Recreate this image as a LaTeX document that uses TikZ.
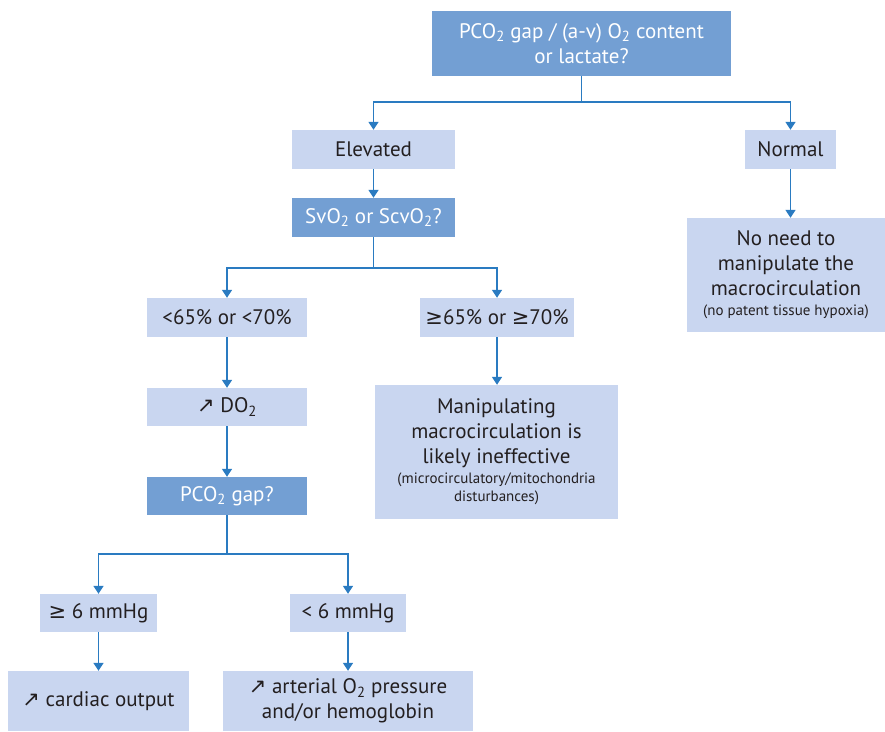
\documentclass[tikz,border=0pt]{standalone}
\usepackage{fontspec}
\setmainfont{PT Sans}
\newfontfamily\symfont{DejaVu Sans}
\usetikzlibrary{arrows.meta}

\definecolor{darkbox}{HTML}{739FD3}
\definecolor{lightbox}{HTML}{C9D6F0}
\definecolor{linkblue}{HTML}{2A7BC1}
\definecolor{textgray}{HTML}{231F20}
\newcommand{\incr}{{\symfont ↗}}
\newcommand{\geqsym}{{\symfont ≥}}
\newcommand{\notefont}{\fontsize{15}{18}\selectfont}

\begin{document}
\begin{tikzpicture}[x=1pt,y=-1pt,
  box/.style={fill=lightbox, text=textgray, font=\fontsize{21}{25}\selectfont, align=center, inner sep=0pt},
  qbox/.style={box, fill=darkbox, text=white},
  link/.style={draw=linkblue, line width=1.5pt, -{Triangle[length=8pt,width=10pt]}}]
  \useasboundingbox (0,0) rectangle (885,731);

  % questions and answers
  \node[qbox, minimum width=299pt, minimum height=65pt] (gap) at (581.5,43.5) {PCO\textsubscript{2} gap / (a-v) O\textsubscript{2} content\\or lactate?};
  \node[box, minimum width=163pt, minimum height=39pt] (elev) at (373.5,149.5) {Elevated};
  \node[box, minimum width=91pt, minimum height=39pt] (norm) at (790.5,149.5) {Normal};
  \node[qbox, minimum width=163pt, minimum height=39pt] (svo) at (373.5,217.5) {SvO\textsubscript{2} or ScvO\textsubscript{2}?};
  \node[box, minimum width=198pt, minimum height=114pt] (noneed) at (786,275) {No need to\\manipulate the\\macrocirculation\\[-5pt]{\notefont (no patent tissue hypoxia)}};
  \node[box, minimum width=160pt, minimum height=39pt] (low) at (227,317.5) {<65\% or <70\%};
  \node[box, minimum width=154pt, minimum height=39pt] (high) at (497,317.5) {\geqsym65\% or \geqsym70\%};
  \node[box, minimum width=243pt, minimum height=134pt] (manip) at (496.5,452) {Manipulating\\macrocirculation is\\likely ineffective\\[-5pt]{\notefont (microcirculatory/mitochondria}\\[-7pt]{\notefont disturbances)}};
  \node[box, minimum width=160pt, minimum height=38pt] (do) at (227,407) {\incr{} DO\textsubscript{2}};
  \node[qbox, minimum width=160pt, minimum height=38pt] (pgap) at (227,496) {PCO\textsubscript{2} gap?};
  \node[box, minimum width=117pt, minimum height=38pt] (ge6) at (98.5,613) {\geqsym{} 6 mmHg};
  \node[box, minimum width=116pt, minimum height=38pt] (lt6) at (348,613) {< 6 mmHg};
  \node[box, minimum width=181pt, minimum height=60pt] (card) at (98.5,701) {\incr{} cardiac output};
  \node[box, minimum width=250pt, minimum height=60pt] (art) at (348,701) {\incr{} arterial O\textsubscript{2} pressure\\and/or hemoglobin};

  % branch points
  \coordinate (split1) at (581.5,102);
  \coordinate (split2) at (373.5,268);
  \coordinate (split3) at (227,554);

  \draw[link] (gap.south) -- (split1) -| (elev.north);
  \draw[link] (split1) -| (norm.north);
  \draw[link] (elev.south) -- (svo.north);
  \draw[link] (norm.south) -- (norm.south |- noneed.north);
  \draw[link] (svo.south) -- (split2) -| (low.north);
  \draw[link] (split2) -| (high.north);
  \draw[link] (high.south) -- (high.south |- manip.north);
  \draw[link] (low.south) -- (do.north);
  \draw[link] (do.south) -- (pgap.north);
  \draw[link] (pgap.south) -- (split3) -| (ge6.north);
  \draw[link] (split3) -| (lt6.north);
  \draw[link] (ge6.south) -- (card.north);
  \draw[link] (lt6.south) -- (art.north);
\end{tikzpicture}
\end{document}
